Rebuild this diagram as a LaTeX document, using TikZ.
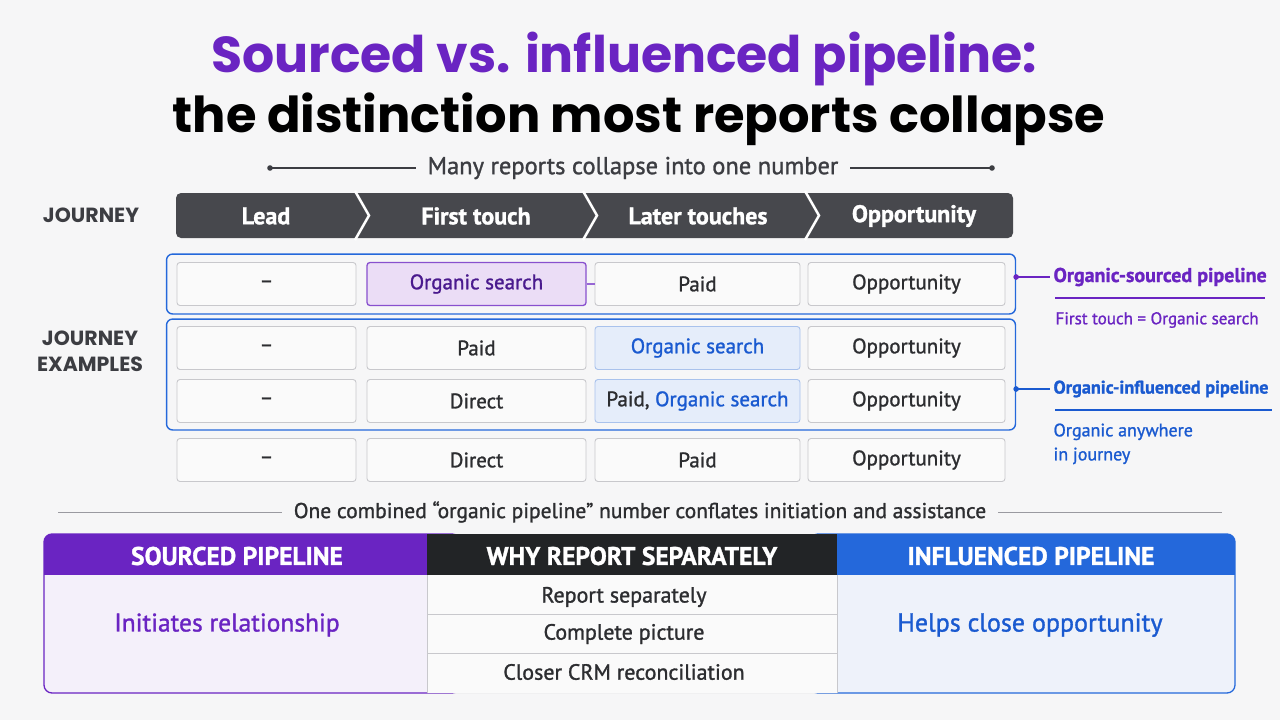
\documentclass[tikz,border=0pt]{standalone}
\usepackage{fontspec}
\setmainfont{PT Sans}[FakeBold=1.2]
\newfontfamily\headfont{Poppins}
\usetikzlibrary{positioning,fit}

\definecolor{bgcol}{HTML}{F6F6F7}
\definecolor{ink}{HTML}{2C2D30}
\definecolor{greyink}{HTML}{3C3D42}
\definecolor{barcol}{HTML}{47484D}
\definecolor{cellline}{HTML}{C8C8CC}
\definecolor{cellbg}{HTML}{FAFAFA}
\definecolor{srcpurple}{HTML}{6A24C2}
\definecolor{srcdark}{HTML}{4A1A8E}
\definecolor{srcfill}{HTML}{EBDDF6}
\definecolor{srcbg}{HTML}{F4F0FA}
\definecolor{infblue}{HTML}{2468DB}
\definecolor{inftext}{HTML}{1A5AD0}
\definecolor{inffill}{HTML}{E5EDFA}
\definecolor{infline}{HTML}{A9C2EC}
\definecolor{infbg}{HTML}{EEF2FA}
\definecolor{darkhead}{HTML}{222426}
\definecolor{ruleline}{HTML}{9A9AA0}

\tikzset{
  cell/.style={draw=cellline, fill=cellbg, rounded corners=3, line width=0.9,
    text=ink, inner sep=0, minimum height=43, font=\fontsize{21}{24}\selectfont},
  colA/.style={minimum width=179},
  colB/.style={minimum width=219},
  colC/.style={minimum width=205},
  colD/.style={minimum width=197},
  stage/.style={text=white, font=\fontsize{24}{27}\selectfont\bfseries},
  group/.style={draw=infblue, rounded corners=6, line width=1.4, inner xsep=10, inner ysep=8},
  sidelabel/.style={text=greyink, font=\headfont\fontsize{20.5}{26}\selectfont\bfseries, align=center},
  annot/.style={anchor=west, font=\fontsize{20}{24}\selectfont\bfseries},
  tablehead/.style={text=white, font=\fontsize{25.5}{28}\selectfont\bfseries},
  whyrow/.style={text=ink, font=\fontsize{22}{26}\selectfont}
}

\begin{document}
\begin{tikzpicture}[x=1pt, y=-1pt]
  \fill[bgcol] (0,0) rectangle (1280,720);
  \useasboundingbox (0,0) rectangle (1280,720);

  % title
  \node (title1) [anchor=base, text=srcpurple, font=\headfont\fontsize{50.5}{56}\selectfont\bfseries] at (624,72) {Sourced vs. influenced pipeline:};
  \node (title2) [anchor=base, text=black, font=\headfont\fontsize{49.5}{56}\selectfont\bfseries] at (639,132) {the distinction most reports collapse};

  % subtitle with rule
  \coordinate (subL) at (270,168);
  \coordinate (subR) at (992,168);
  \draw[greyink, line width=1.2] (subL) -- (subR);
  \fill[greyink] (subL) circle (2.8) (subR) circle (2.8);
  \node (sub) [fill=bgcol, inner xsep=12, text=greyink, font=\fontsize{24.5}{28}\selectfont] at (633,168) {Many reports collapse into one number};

  % journey bar
  \node (jlab) [sidelabel] at (91,215) {JOURNEY};
  \fill[barcol, rounded corners=5] (176,193) rectangle (1013,238);
  \foreach \x in {355,583,805}
    \draw[white, line width=2.5] (\x,191) -- (\x+14,215.5) -- (\x,240);
  \node (lead) [stage] at (266,216) {Lead};
  \node (first) [stage] at (476,216) {First touch};
  \node (later) [stage] at (698,216) {Later touches};
  \node (opp) [stage] at (914,216) {Opportunity};

  % journey examples
  \node (exlab) [sidelabel] at (90,351) {JOURNEY\\EXAMPLES};

  \node (r1c1) [cell, colA] at (266.5,284) {--};
  \node (r1c2) [cell, colB, draw=srcpurple!80, fill=srcfill, text=srcdark, line width=1.3] at (476.5,284) {Organic search};
  \node (r1c3) [cell, colC] at (697.5,284) {Paid};
  \node (r1c4) [cell, colD] at (906.5,284) {Opportunity};
  \draw[srcpurple!70, line width=1.2] (r1c2) -- (r1c3);

  \node (r2c1) [cell, colA] at (266.5,348) {--};
  \node (r2c2) [cell, colB] at (476.5,348) {Paid};
  \node (r2c3) [cell, colC, draw=infline, fill=inffill, text=inftext] at (697.5,348) {Organic search};
  \node (r2c4) [cell, colD] at (906.5,348) {Opportunity};

  \node (r3c1) [cell, colA] at (266.5,401) {--};
  \node (r3c2) [cell, colB] at (476.5,401) {Direct};
  \node (r3c3) [cell, colC, draw=infline, fill=inffill] at (697.5,401) {Paid, \textcolor{inftext}{Organic search}};
  \node (r3c4) [cell, colD] at (906.5,401) {Opportunity};

  \node (r4c1) [cell, colA] at (266.5,460) {--};
  \node (r4c2) [cell, colB] at (476.5,460) {Direct};
  \node (r4c3) [cell, colC] at (697.5,460) {Paid};
  \node (r4c4) [cell, colD] at (906.5,460) {Opportunity};

  \node (srcgrp) [group, inner ysep=8] [fit=(r1c1)(r1c4)] {};
  \node (infgrp) [group, inner ysep=7] [fit=(r2c1)(r3c4)] {};

  % annotations
  \coordinate (srcdot) at (srcgrp.east |- 0,277);
  \node (srcann) [annot, text=srcpurple] at (1050,277) {Organic-sourced pipeline};
  \draw[srcpurple, line width=1.5] (srcdot) -- (srcann.west);
  \fill[srcpurple] (srcdot) circle (2.8);
  \draw[srcpurple, line width=1.2] (1055,298) -- (1265,298);
  \node (srcnote) [anchor=west, text=srcpurple, font=\fontsize{17}{20}\selectfont] at (1052,320) {First touch = Organic search};

  \coordinate (infdot) at (infgrp.east |- 0,389);
  \node (infann) [annot, text=inftext, font=\fontsize{18.2}{24}\selectfont\bfseries] at (1050,389) {Organic-influenced pipeline};
  \draw[inftext, line width=1.5] (infdot) -- (infann.west);
  \fill[inftext] (infdot) circle (2.8);
  \draw[inftext, line width=1.2] (1055,410) -- (1272,410);
  \node (infnote) [anchor=north west, text=inftext, align=left, font=\fontsize{18}{24}\selectfont] at (1050,420) {Organic anywhere\\in journey};

  % separator
  \draw[ruleline, line width=1] (58,512) -- (1222,512);
  \node (sep) [fill=bgcol, inner xsep=12, text=ink, font=\fontsize{21.5}{24}\selectfont] at (640,512) {One combined “organic pipeline” number conflates initiation and assistance};

  % bottom table
  \draw[srcpurple, fill=srcbg, line width=1.3, rounded corners=8] (44,534) rectangle (460,693);
  \draw[infblue, fill=infbg, line width=1.3, rounded corners=8] (810,534) rectangle (1235,693);
  \begin{scope}
    \clip[rounded corners=8] (44,534) rectangle (1235,693);
    \fill[srcpurple] (44,534) rectangle (427,575);
    \fill[infblue] (837,534) rectangle (1235,575);
    \fill[darkhead] (427,534) rectangle (837,575);
    \fill[cellbg] (427,575) rectangle (837,693);
    \draw[cellline, line width=1] (427,614) -- (837,614) (427,653) -- (837,653) (427,693) -- (837,693);
    \draw[cellline, line width=1] (427,575) -- (427,693) (837,575) -- (837,693);
  \end{scope}

  \node (srchead) [tablehead] at (237,556) {SOURCED PIPELINE};
  \node (srcbody) [text=srcpurple, font=\fontsize{25.5}{30}\selectfont] at (227,625) {Initiates relationship};
  \node (whyhead) [tablehead] at (632,556) {WHY REPORT SEPARATELY};
  \node (why1) [whyrow] at (624,597) {Report separately};
  \node (why2) [whyrow] at (624,634) {Complete picture};
  \node (why3) [whyrow] at (624,672) {Closer CRM reconciliation};
  \node (infhead) [tablehead] at (1031,556) {INFLUENCED PIPELINE};
  \node (infbody) [text=inftext, font=\fontsize{26}{30}\selectfont] at (1030,625) {Helps close opportunity};
\end{tikzpicture}
\end{document}
